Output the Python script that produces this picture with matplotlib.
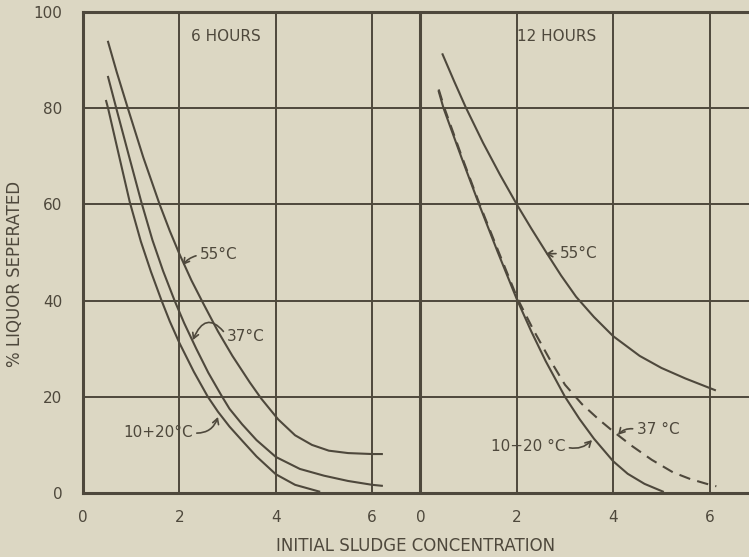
import matplotlib
matplotlib.use("Agg")
import matplotlib.pyplot as plt
import numpy as np

PAPER = "#dcd7c3"
INK = "#4e483c"

plt.rcParams["font.family"] = ["DejaVu Sans"]

# Shared y scale and panel tick labels
y_ticks = [0, 20, 40, 60, 80, 100]
panel_ticks = [0, 2, 4, 6]
panel_offset = 7.0          # the 12-hour panel starts where the 6-hour one ends

# ---- 6 hours ----
x_6h_cold = [0.48, 0.52, 0.75, 0.97, 1.2, 1.41, 1.63, 1.8, 2.0, 2.3, 2.59, 2.8,
             3.04, 3.3, 3.6, 4.0, 4.4, 4.9]
y_6h_cold = [81.5, 80, 70, 60.5, 52.3, 46, 40, 35.7, 31.2, 25.2, 20, 16.9,
             13.8, 10.9, 7.6, 3.9, 1.7, 0.3]

x_6h_37 = [0.52, 0.69, 0.95, 1.21, 1.44, 1.66, 1.9, 2.1, 2.35, 2.6, 2.87, 3.04,
           3.3, 3.6, 4.0, 4.5, 5.0, 5.5, 6.0, 6.2]
y_6h_37 = [86.5, 80, 70.2, 60.5, 52.6, 46.2, 40, 35.3, 30, 25, 20.3, 17.5,
           14.3, 11.0, 7.5, 5.0, 3.6, 2.5, 1.7, 1.5]

x_6h_55 = [0.52, 0.7, 0.93, 1.25, 1.59, 1.8, 2.0, 2.25, 2.49, 2.8, 3.1, 3.46,
           3.7, 4.05, 4.4, 4.75, 5.1, 5.5, 6.0, 6.2]
y_6h_55 = [93.8, 87.5, 80, 69.8, 60, 54.5, 49.7, 44.2, 39.5, 33.6, 28.5, 23.0,
           19.6, 15.3, 12.0, 10.0, 8.8, 8.3, 8.1, 8.1]

# ---- 12 hours ----
x_12h_cold = [0.38, 0.48, 0.85, 1.21, 1.6, 2.0, 2.3, 2.6, 3.0, 3.3, 3.6, 4.0,
              4.3, 4.65, 5.03]
y_12h_cold = [83.5, 80, 69.8, 60.2, 50.2, 40.3, 33.6, 27.4, 20, 15.4, 11.3, 6.6,
              4.0, 1.9, 0.3]

x_12h_37 = [0.38, 0.5, 0.85, 1.23, 1.62, 2.02, 2.35, 2.7, 3.0, 3.35, 3.7, 4.0,
            4.4, 4.8, 5.24, 5.6, 5.94, 6.14]
y_12h_37 = [83.9, 80, 70.2, 60, 50.2, 40.3, 33.8, 27.5, 22.5, 18.5, 15.3, 12.8,
            9.7, 6.9, 4.3, 2.9, 1.9, 1.4]

x_12h_55 = [0.46, 0.7, 0.94, 1.3, 1.65, 2.0, 2.3, 2.6, 2.92, 3.23, 3.6, 4.0,
            4.55, 5.0, 5.5, 6.11]
y_12h_55 = [91.2, 85.6, 80.2, 72.8, 66.2, 60, 55, 50.2, 45.2, 40.8, 36.6, 32.6,
            28.5, 26, 23.8, 21.4]

fig = plt.figure(figsize=(7.49, 5.57), dpi=100)
fig.patch.set_facecolor(PAPER)
ax = fig.add_axes([83 / 749, 64 / 557, 666 / 749, 481 / 557])
ax.set_facecolor(PAPER)

x_max = 666 / 48.2
ax.set_xlim(0, x_max)
ax.set_ylim(0, 100)

# Ticks: one axis, two panels
xt = list(panel_ticks) + [t + panel_offset for t in panel_ticks]
ax.set_xticks(xt)
ax.set_xticklabels([str(t) for t in panel_ticks] * 2)
ax.set_yticks(y_ticks)
ax.set_yticklabels([str(t) for t in y_ticks])
ax.tick_params(axis="x", length=0, pad=12, labelsize=11, colors=INK)
ax.tick_params(axis="y", length=0, pad=15, labelsize=11, colors=INK)

# Grid
ax.grid(True, color=INK, lw=1.4)
ax.set_axisbelow(True)
ax.axvline(panel_offset, color=INK, lw=2.2, zorder=1.5)
for side in ("left", "bottom", "top"):
    ax.spines[side].set_color(INK)
    ax.spines[side].set_linewidth(2.2)
ax.spines["right"].set_visible(False)

# Curves
lw = 1.5
ax.plot(x_6h_cold, y_6h_cold, color=INK, lw=lw, zorder=3)
ax.plot(x_6h_37, y_6h_37, color=INK, lw=lw, zorder=3)
ax.plot(x_6h_55, y_6h_55, color=INK, lw=lw, zorder=3)

ax.plot(np.array(x_12h_cold) + panel_offset, y_12h_cold, color=INK, lw=lw, zorder=3)
ax.plot(np.array(x_12h_37) + panel_offset, y_12h_37, color=INK, lw=lw,
        dashes=(5.5, 3.5), zorder=3)
ax.plot(np.array(x_12h_55) + panel_offset, y_12h_55, color=INK, lw=lw, zorder=3)

# Panel titles
ax.text(2.24, 95.0, "6 HOURS", ha="left", va="center", fontsize=11, color=INK)
ax.text(2.0 + panel_offset, 95.0, "12 HOURS", ha="left", va="center",
        fontsize=11, color=INK)


def label(text, tip, pos, ha="left", rel=(0, 0.5), rad=0.0):
    ax.annotate(text, xy=tip, xytext=pos, textcoords="data", ha=ha, va="center",
                fontsize=11, color=INK, zorder=4,
                arrowprops=dict(arrowstyle="->,head_length=0.35,head_width=0.2",
                                color=INK, lw=1.2, shrinkA=1, shrinkB=0,
                                relpos=rel,
                                connectionstyle=f"arc3,rad={rad}"))


# 6-hour curve labels
label("55°C", (2.07, 47.4), (2.43, 49.5), rad=0.2)
label("37°C", (2.28, 31.8), (2.99, 32.6), rad=0.9)
label("10+20°C", (2.8, 15.8), (0.83, 12.5), ha="left", rel=(1, 0.5), rad=0.4)

# 12-hour curve labels
label("55°C", (2.6 + panel_offset, 49.7), (2.9 + panel_offset, 49.8), rad=0.0)
label("37 °C", (4.1 + panel_offset, 12.1), (4.49 + panel_offset, 13.2), rad=0.3)
label("10+20 °C", (3.56 + panel_offset, 11.0), (1.46 + panel_offset, 9.6),
      ha="left", rel=(1, 0.5), rad=0.3)

# Axis titles
fig.text(15 / 749, 1 - 274 / 557, "% LIQUOR SEPERATED", rotation=90,
         ha="center", va="center", fontsize=12, color=INK)
fig.text(416 / 749, 1 - 546 / 557, "INITIAL SLUDGE CONCENTRATION",
         ha="center", va="center", fontsize=12, color=INK)

fig.savefig("out.png", dpi=100, facecolor=PAPER)
